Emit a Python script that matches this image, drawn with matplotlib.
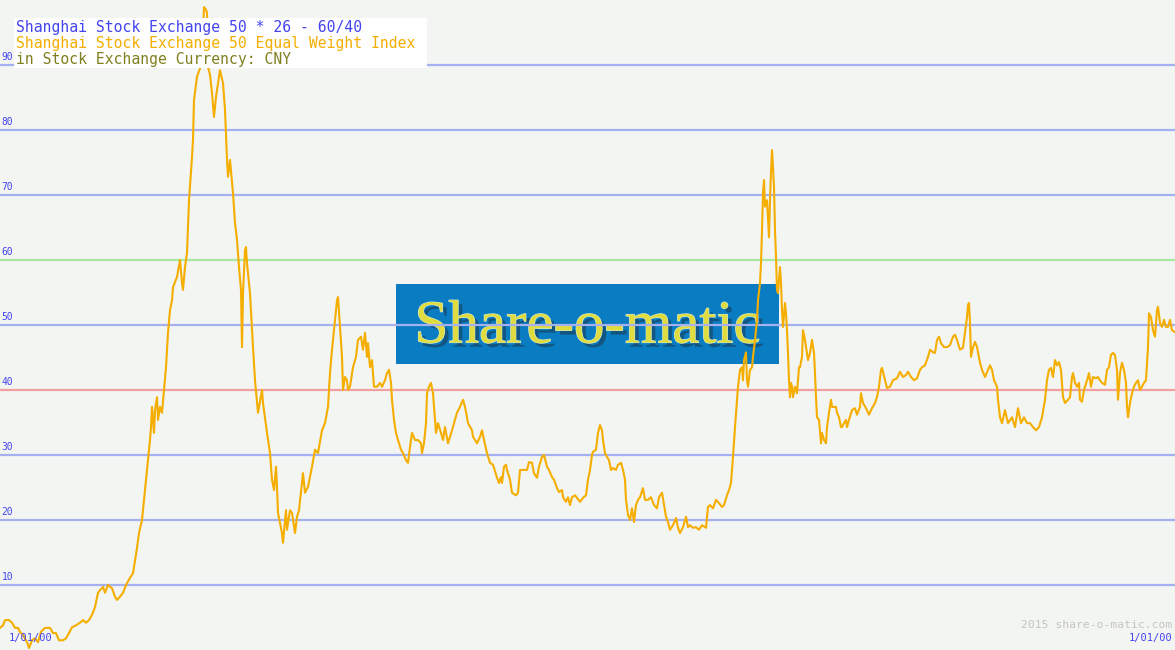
import matplotlib
matplotlib.use("Agg")
import matplotlib.pyplot as plt
import matplotlib.patheffects as pe
from matplotlib.patches import Rectangle

# time index (chart columns) and index level
week = [
    0, 3, 5, 9, 12, 15, 18, 20, 23, 27, 29, 32, 35, 38, 41, 45, 50, 53, 56, 59,
    63, 66, 69, 72, 76, 80, 83, 86, 89, 92, 95, 98, 100, 103, 105, 108, 112, 115, 117, 120,
    123, 126, 130, 133, 135, 137, 139, 142, 144, 146, 148, 150, 151, 152, 154, 155, 157, 158, 160, 162,
    164, 166, 168, 170, 172, 173, 177, 180, 182, 183, 185, 187, 189, 192, 193, 194, 197, 200, 202, 204,
    206, 207, 208, 210, 212, 214, 216, 218, 220, 223, 225, 227, 228, 230, 233, 235, 237, 239, 241, 242,
    243, 245, 246, 247, 250, 253, 255, 258, 262, 263, 267, 270, 272, 274, 276, 277, 278, 282, 283, 286,
    287, 290, 292, 295, 297, 299, 303, 305, 308, 312, 315, 318, 322, 325, 328, 330, 332, 333, 335, 337,
    338, 340, 342, 343, 345, 347, 348, 350, 353, 356, 358, 361, 363, 365, 367, 368, 370, 372, 374, 377,
    380, 382, 385, 387, 389, 391, 392, 394, 396, 398, 401, 403, 406, 408, 410, 412, 415, 418, 421, 422,
    424, 426, 427, 429, 431, 433, 434, 436, 438, 441, 443, 445, 448, 452, 455, 457, 460, 463, 465, 467,
    468, 472, 473, 477, 480, 482, 484, 487, 490, 493, 497, 499, 501, 502, 504, 506, 507, 510, 512, 516,
    518, 520, 523, 527, 529, 532, 534, 537, 539, 542, 544, 547, 549, 552, 554, 557, 559, 562, 563, 566,
    568, 570, 572, 575, 577, 580, 583, 586, 588, 590, 592, 593, 596, 598, 600, 602, 603, 605, 607, 609,
    611, 613, 616, 618, 621, 623, 625, 626, 628, 630, 632, 634, 636, 638, 640, 643, 645, 648, 651, 654,
    657, 659, 662, 664, 666, 668, 670, 673, 676, 678, 680, 683, 686, 688, 690, 693, 696, 699, 702, 706,
    708, 710, 713, 716, 719, 722, 724, 727, 729, 731, 733, 735, 737, 738, 740, 742, 743, 744, 746, 747,
    748, 750, 752, 753, 755, 757, 758, 760, 761, 762, 763, 764, 765, 767, 768, 769, 770, 771, 772, 773,
    774, 775, 776, 777, 778, 780, 781, 782, 783, 785, 786, 787, 788, 789, 790, 791, 792, 793, 795, 797,
    798, 799, 800, 802, 803, 805, 807, 808, 810, 812, 814, 815, 816, 817, 819, 821, 822, 824, 826, 827,
    828, 829, 831, 832, 834, 836, 837, 839, 841, 842, 844, 846, 847, 849, 852, 855, 857, 860, 861, 863,
    866, 869, 872, 875, 877, 879, 881, 882, 885, 887, 890, 893, 897, 900, 903, 906, 908, 911, 914, 917,
    920, 922, 925, 928, 930, 933, 935, 937, 939, 941, 944, 947, 950, 953, 955, 957, 960, 963, 965, 967,
    968, 969, 970, 971, 973, 975, 977, 980, 982, 985, 988, 990, 992, 994, 997, 998, 1000, 1002, 1005, 1008,
    1012, 1015, 1018, 1021, 1024, 1027, 1030, 1033, 1036, 1039, 1042, 1045, 1047, 1049, 1051, 1053, 1055, 1057, 1059, 1061,
    1063, 1065, 1068, 1070, 1072, 1073, 1075, 1077, 1079, 1080, 1082, 1084, 1087, 1089, 1091, 1093, 1096, 1098, 1100, 1102,
    1105, 1107, 1109, 1111, 1113, 1115, 1117, 1118, 1120, 1122, 1124, 1126, 1127, 1128, 1130, 1132, 1134, 1136, 1138, 1140,
    1142, 1144, 1146, 1148, 1149, 1151, 1153, 1155, 1157, 1158, 1160, 1162, 1164, 1166, 1168, 1170, 1172, 1175,
]
index_vals = [
    3.4, 3.8, 4.6, 4.6, 4.2, 3.4, 3.4, 2.8, 2.3, 1.2, 0.3, 1.5, 1.8, 1.2, 2.8, 3.4, 3.4, 2.6, 2.6, 1.5,
    1.5, 1.8, 2.6, 3.5, 3.8, 4.2, 4.6, 4.2, 4.6, 5.4, 6.6, 8.8, 9.2, 9.7, 8.8, 10.0, 9.5, 8.2, 7.7, 8.2,
    8.8, 10.0, 11.1, 11.8, 13.8, 15.7, 18.0, 20.0, 23.1, 26.2, 29.2, 32.3, 34.3, 37.4, 33.4, 36.9, 38.9, 35.4, 37.4, 36.5,
    40.0, 43.5, 48.8, 52.3, 53.8, 55.8, 57.4, 60.0, 56.5, 55.4, 58.9, 61.1, 69.2, 75.8, 78.5, 84.6, 88.2, 89.5, 90.8, 98.9,
    98.5, 98.0, 89.7, 88.5, 85.7, 82.0, 85.1, 87.2, 89.2, 87.2, 83.1, 75.4, 72.8, 75.4, 70.3, 65.7, 63.1, 58.9, 55.4, 46.6,
    54.9, 61.5, 62.0, 59.5, 54.9, 46.6, 41.5, 36.5, 40.0, 38.0, 33.4, 30.3, 26.2, 24.6, 28.2, 25.1, 21.1, 18.0, 16.5, 21.5,
    18.5, 21.5, 21.1, 18.0, 20.5, 21.5, 27.2, 24.2, 25.1, 28.2, 30.8, 30.3, 33.8, 34.9, 37.4, 42.6, 46.2, 47.7, 50.8, 53.8,
    54.3, 49.7, 45.1, 40.0, 42.0, 41.5, 40.0, 40.5, 43.5, 45.1, 47.7, 48.2, 46.2, 48.8, 45.1, 47.2, 43.5, 44.6, 40.5, 40.5,
    41.1, 40.5, 41.5, 42.6, 43.1, 41.1, 38.5, 35.4, 33.4, 32.3, 30.8, 30.3, 29.2, 28.8, 31.2, 33.4, 32.3, 32.3, 31.8, 30.3,
    31.8, 34.9, 39.5, 40.5, 41.1, 39.5, 37.4, 33.4, 34.9, 33.4, 32.3, 34.3, 31.8, 33.8, 35.4, 36.5, 37.4, 38.5, 37.4, 35.8,
    34.9, 33.8, 32.8, 31.8, 32.8, 33.8, 32.3, 30.3, 28.8, 28.5, 26.5, 25.7, 26.6, 25.7, 28.2, 28.5, 27.7, 26.2, 24.2, 23.8,
    24.2, 27.7, 27.7, 27.7, 28.9, 28.8, 27.2, 26.5, 28.2, 29.7, 30.0, 28.2, 27.7, 26.6, 26.2, 24.9, 24.3, 24.6, 23.5, 22.8,
    23.5, 22.3, 23.5, 23.8, 23.4, 22.8, 23.4, 23.8, 26.2, 27.7, 30.0, 30.5, 30.8, 33.4, 34.6, 33.8, 32.3, 30.3, 29.7, 29.2,
    27.7, 28.0, 27.7, 28.5, 28.8, 27.7, 26.2, 23.1, 20.8, 20.0, 21.8, 19.7, 22.3, 23.1, 23.5, 24.9, 23.1, 23.1, 23.5, 22.3,
    21.8, 23.5, 24.2, 22.3, 20.5, 19.7, 18.5, 19.2, 20.3, 18.8, 18.0, 18.9, 20.5, 18.9, 19.2, 18.8, 18.9, 18.5, 19.2, 18.8,
    22.0, 22.3, 21.8, 23.1, 22.6, 22.0, 22.3, 23.8, 24.6, 25.7, 29.7, 34.3, 38.5, 40.5, 43.1, 43.5, 41.5, 44.6, 45.8, 41.5,
    40.5, 43.1, 43.5, 45.1, 47.7, 50.8, 53.8, 56.5, 59.5, 64.6, 70.3, 72.3, 68.2, 69.2, 66.2, 63.5, 69.2, 73.4, 76.9, 74.3,
    71.2, 64.6, 60.5, 55.4, 54.9, 58.9, 56.5, 52.3, 49.7, 53.4, 51.8, 49.2, 45.7, 41.5, 38.9, 41.1, 40.5, 38.9, 40.5, 39.5,
    41.5, 43.5, 43.5, 45.1, 49.2, 47.7, 45.7, 44.6, 45.7, 47.7, 45.7, 42.6, 38.9, 35.8, 35.4, 31.8, 33.4, 32.3, 31.8, 34.3,
    35.4, 36.5, 38.5, 37.4, 37.4, 37.4, 36.5, 35.8, 34.3, 34.3, 34.9, 35.4, 34.3, 35.4, 36.9, 37.2, 36.2, 37.4, 39.5, 38.0,
    37.2, 36.2, 37.2, 38.0, 38.9, 40.5, 43.1, 43.4, 41.5, 40.3, 40.5, 41.5, 41.8, 42.8, 42.0, 42.3, 42.8, 42.0, 41.5, 41.8,
    43.1, 43.5, 43.8, 45.1, 46.2, 45.8, 45.7, 47.7, 48.2, 47.2, 46.6, 46.6, 46.9, 48.2, 48.5, 47.7, 46.2, 46.5, 48.8, 51.2,
    53.1, 53.4, 50.3, 45.1, 46.6, 47.4, 46.6, 44.2, 43.1, 42.0, 43.1, 43.8, 43.1, 41.5, 40.5, 38.5, 35.8, 34.9, 36.9, 34.9,
    35.8, 34.3, 37.2, 34.9, 35.8, 34.9, 34.9, 34.3, 33.8, 34.3, 35.8, 38.5, 41.5, 43.1, 43.4, 42.0, 44.6, 43.8, 44.3, 43.1,
    38.9, 38.0, 38.5, 38.9, 42.0, 42.6, 41.1, 40.5, 41.1, 38.5, 38.2, 40.0, 41.5, 42.6, 40.5, 42.0, 41.8, 42.0, 41.5, 41.1,
    40.8, 43.1, 43.5, 45.4, 45.7, 45.4, 43.1, 38.5, 42.6, 44.2, 43.1, 41.1, 37.4, 35.8, 38.0, 39.5, 40.5, 41.1, 41.5, 40.0,
    40.5, 41.1, 41.5, 46.6, 51.8, 51.2, 49.2, 48.2, 52.3, 52.8, 50.3, 49.7, 50.8, 49.7, 49.7, 50.8, 49.2, 48.9,
]

grid_levels = [10, 20, 30, 40, 50, 60, 70, 80, 90]
grid_colors = {40: "#f0a0a0", 60: "#a8e8a0"}
date_labels = ["1/01/00", "1/01/00"]
title_lines = [
    ("Shanghai Stock Exchange 50 * 26 - 60/40", "#4444ee"),
    ("Shanghai Stock Exchange 50 Equal Weight Index", "#f5ae00"),
    ("in Stock Exchange Currency: CNY", "#808020"),
]

fig = plt.figure(figsize=(11.75, 6.5), dpi=100)
fig.patch.set_facecolor("#f3f5f2")
ax = fig.add_axes([0, 0, 1, 1])
ax.set_facecolor("#f3f5f2")
ax.set_xlim(0, 1175)
ax.set_ylim(0, 100)
ax.set_axis_off()

# watermark logo
ax.add_patch(Rectangle((0.337, 0.44), 0.326, 0.123, transform=ax.transAxes,
                       facecolor="#0a7cc2", edgecolor="none", zorder=1))
ax.text(0.5, 0.473, "Share-o-matic", transform=ax.transAxes, ha="center", va="baseline",
        family="Liberation Serif", fontsize=44, color="#e0dc40", zorder=1.2,
        path_effects=[pe.withSimplePatchShadow(offset=(3, -3), shadow_rgbFace="#1a3040", alpha=0.5),
                      pe.Stroke(linewidth=0.8, foreground="#c8e8e0"), pe.Normal()])

for lv in grid_levels:
    ax.axhline(lv, color=grid_colors.get(lv, "#a4b0f0"), lw=1.6, zorder=1.5)
    ax.text(1.5, lv + 0.4, str(lv), color="#4444ee", fontsize=6.9,
            family="DejaVu Sans Mono", va="bottom", ha="left", zorder=6)

ax.plot(week, index_vals, color="#f5ae00", lw=1.5, zorder=3)

# legend box
ax.add_patch(Rectangle((0.0115, 0.895), 0.3515, 0.077, transform=ax.transAxes,
                       facecolor="#fdfefd", edgecolor="none", zorder=4))
for i, (txt, col) in enumerate(title_lines):
    ax.text(0.0135, 0.957 - i * 0.0246, txt, transform=ax.transAxes, color=col,
            family="DejaVu Sans Mono", fontsize=10.6, va="center", ha="left", zorder=5)

ax.text(0.998, 0.038, "2015 share-o-matic.com", transform=ax.transAxes, color="#c4c4c4",
        family="DejaVu Sans Mono", fontsize=8.2, ha="right", va="center", zorder=5)
ax.text(0.007, 0.0185, date_labels[0], transform=ax.transAxes, color="#4444ee",
        family="DejaVu Sans Mono", fontsize=7.5, ha="left", va="center", zorder=5)
ax.text(0.998, 0.0185, date_labels[1], transform=ax.transAxes, color="#4444ee",
        family="DejaVu Sans Mono", fontsize=7.5, ha="right", va="center", zorder=5)

fig.savefig("out.png", dpi=100, facecolor=fig.get_facecolor())
